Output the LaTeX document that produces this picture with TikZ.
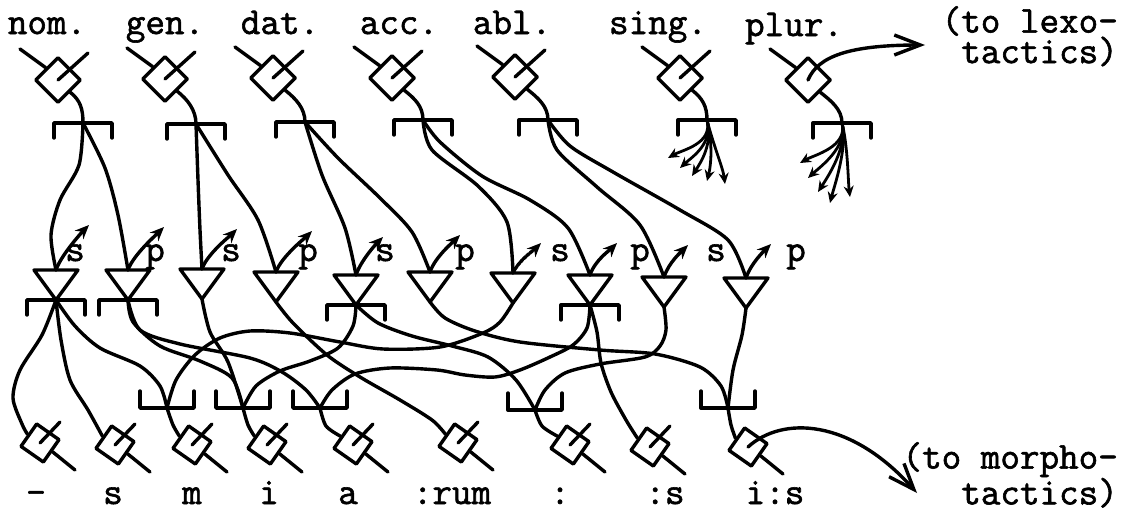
\documentclass[tikz,border=0pt]{standalone}
\usepackage{fontspec}
\newfontfamily\twfont{Latin Modern Mono}[FakeBold=1.6]
\usetikzlibrary{shapes.geometric,arrows.meta,calc}
\begin{document}
\begin{tikzpicture}[x=1pt,y=-1pt,
 ln/.style={line width=3.4pt,line cap=round,line join=round},
 tdia/.style={diamond,draw,line width=3.4pt,minimum size=46pt,inner sep=0pt,line join=round},
 bdia/.style={diamond,draw,line width=3.4pt,minimum size=40pt,inner sep=0pt,line join=round,rotate=10},
 lbl/.style={font=\twfont\fontsize{38}{25}\selectfont,inner sep=0pt,anchor=base},
 two/.style={font=\twfont\fontsize{38}{25}\selectfont,inner sep=0pt,anchor=north east,align=right},
 sp/.style={ln,-{Stealth[length=14pt,width=12pt]}},
 fan/.style={line width=2.8pt,line cap=round,-{Stealth[length=11pt,width=10pt]}},
 big/.style={ln,-{Straight Barb[length=26pt,width=20pt]}},
 topbr/.pic={\draw[ln] (-29,15) -- (-29,0) -- (29,0) -- (29,15);},
 botbr/.pic={\draw[ln] (-27,-17) -- (-27,0) -- (27,0) -- (27,-17);},
]
\useasboundingbox (0,0) rectangle (1121,514);

% ---- top labels
\node[lbl] (lnom) at (47,34) {nom.};
\node[lbl] (lgen) at (165,34) {gen.};
\node[lbl] (ldat) at (280,34) {dat.};
\node[lbl] (lacc) at (399,34) {acc.};
\node[lbl] (labl) at (512,34) {abl.};
\node[lbl] (lsing) at (658,34) {sing.};
\node[lbl] (lplur) at (794,36) {plur.};
\node[two] (lexotext) at (1118,6) {(to lexo-\\tactics)};

% ---- top diamonds
\foreach \n/\x/\y in {nom/58/80,gen/165/79,dat/273/78,acc/392/78,abl/515/77,sing/680/78,plur/808/80}{
  \node[tdia] (d\n) at (\x,\y) {};
  \coordinate (ul\n) at ($(d\n)+(-38,-31)$);
  \draw[ln] (ul\n) -- (d\n.north west);
}
\foreach \n in {nom,gen,dat,acc,abl,sing}{
  \coordinate (ur\n) at ($(d\n)+(30,-27)$);
  \draw[ln] (ur\n) -- (d\n.center);
}
\coordinate (lexo) at (925,45);
\draw[big] (dplur.center) .. controls (818,56) and (850,45) .. (lexo);

% ---- top brackets
\foreach \n/\x/\y in {nom/83/123,gen/196/124,dat/305/122,acc/423/120,abl/548/120,sing/707/120,plur/842/123}{
  \coordinate (j\n) at (\x,\y);
  \draw[ln] (d\n.south east) .. controls +(10,8) and +(0,-14) .. (j\n);
  \pic at (j\n) {topbr};
}

% ---- number fans
\foreach \k/\ex/\ey/\cx/\cy in {1/668/158/14/-8,2/680/168/12/-11,3/692/176/9/-14,4/707/181/4/-16,5/725/184/-2/-16}{
  \coordinate (fs\k) at (\ex,\ey);
  \draw[fan] (jsing) .. controls +(6,24) and +(\cx,\cy) .. (fs\k);
}
\foreach \k/\ex/\ey/\cx/\cy in {1/800/163/14/-8,2/808/178/12/-11,3/818/192/9/-14,4/830/203/4/-16,5/850/197/-2/-16}{
  \coordinate (fp\k) at (\ex,\ey);
  \draw[fan] (jplur) .. controls +(6,24) and +(\cx,\cy) .. (fp\k);
}

% ---- triangles
\foreach \i/\x/\y in {1/56/270,2/128/270,3/202/269,4/276/272,5/356/275,6/430/272,7/513/273,8/590/275,9/664/277,10/746/278}{
  \coordinate (t\i) at (\x,\y);
  \coordinate (a\i) at (\x,\y+30);
  \draw[ln] (t\i) ++(-22,0) -- ++(44,0) -- (a\i) -- cycle;
}
\foreach \i in {1,2,5,8}{ \pic at (a\i) {topbr}; }

% ---- s / p arrows and labels
\foreach \i/\dx/\dy/\lx/\lt in {1/33/-45/75/s,2/36/-43/155/p,3/35/-40/231/s,4/36/-41/308/p,5/27/-38/385/s,6/30/-37/465/p,8/27/-32/640/p,9/24/-32/716/s,10/25/-34/796/p}{
  \coordinate (u\i) at ($(t\i)+(\dx,\dy)$);
  \draw[sp] (t\i) .. controls +(5,-15) and +(-6,6) .. (u\i);
  \node[lbl] (s\i) at (\lx,261) {\lt};
}
\coordinate (u7) at ($(t7)+(28,-30)$);
\draw[sp,densely dotted] (t7) .. controls +(5,-12) and +(-6,6) .. (u7);
\node[lbl] (s7) at (560,261) {s};

% ---- case lines to triangles
\draw[ln] plot[smooth] coordinates {(jnom) (79,165) (60,200) (51,235) (t1)};
\draw[ln] plot[smooth] coordinates {(jnom) (105,168) (118,215) (t2)};
\draw[ln] plot[smooth] coordinates {(jgen) (198,180) (200,230) (t3)};
\draw[ln] plot[smooth] coordinates {(jgen) (228,175) (258,220) (t4)};
\draw[ln] plot[smooth] coordinates {(jdat) (322,175) (345,228) (t5)};
\draw[ln] plot[smooth] coordinates {(jdat) (338,158) (380,198) (412,232) (t6)};
\draw[ln] plot[smooth] coordinates {(jacc) (432,150) (478,186) (507,222) (t7)};
\draw[ln] plot[smooth] coordinates {(jacc) (440,142) (482,176) (530,200) (568,228) (t8)};
\draw[ln] plot[smooth] coordinates {(jabl) (557,150) (597,187) (640,225) (t9)};
\draw[ln] plot[smooth] coordinates {(jabl) (570,146) (613,172) (680,210) (728,240) (t10)};

% ---- bottom brackets
\foreach \n/\x/\y in {1/167/408,2/243/408,3/320/408,4/535/410,5/728/408}{
  \coordinate (bb\n) at (\x,\y);
  \pic at (bb\n) {botbr};
}

% ---- bottom diamonds
\foreach \i/\x/\y in {1/40/443,2/115/445,3/192/445,4/267/445,5/353/445,6/458/443,7/570/445,8/650/447,9/748/447}{
  \node[bdia] (e\i) at (\x,\y) {};
  \coordinate (lr\i) at ($(e\i)+(35,27)$);
  \draw[ln] (e\i.south east) -- (lr\i);
}
\foreach \i in {1,...,8}{
  \coordinate (er\i) at ($(e\i)+(20,-21)$);
  \draw[ln] (er\i) -- (e\i.center);
}
\coordinate (morph) at (917,493);
\draw[big] (e9.center) .. controls (782,416) and (850,418) .. (morph);

% ---- triangles to brackets / diamonds
\draw[ln] plot[smooth] coordinates {(a1) (42,335) (20,370) (13,398) (22,424) (e1.north west)};
\draw[ln] plot[smooth] coordinates {(a1) (61,340) (70,380) (88,410) (e2.north west)};
\draw[ln] plot[smooth] coordinates {(a1) (75,326) (100,348) (140,366) (160,386) (bb1)};
\draw[ln] plot[smooth] coordinates {(a2) (140,330) (180,344) (250,358) (282,372) (306,390) (bb3)};
\draw[ln] plot[smooth] coordinates {(a2) (133,322) (160,346) (200,361) (232,378) (bb2)};
\draw[ln] plot[smooth] coordinates {(a3) (210,332) (228,362) (bb2)};
\draw[ln] plot[smooth] coordinates {(a4) (293,323) (327,355) (360,377) (400,400) (432,420) (e6.north west)};
\draw[ln] plot[smooth] coordinates {(a5) (353,326) (338,348) (310,361) (280,371) (256,386) (bb2)};
\draw[ln] plot[smooth] coordinates {(a5) (378,323) (412,336) (452,346) (488,357) (516,380) (bb4)};
\draw[ln] plot[smooth] coordinates {(a6) (445,318) (475,331) (520,342) (600,350) (655,354) (700,367) (721,386) (bb5)};
\draw[ln] plot[smooth] coordinates {(a7) (500,322) (483,333) (440,347) (383,349) (340,342) (290,333) (250,331) (220,338) (195,355) (176,380) (bb1)};
\draw[ln] plot[smooth] coordinates {(a8) (587,328) (573,345) (550,357) (520,370) (495,377) (465,375) (437,370) (390,368) (355,374) (332,390) (bb3)};
\draw[ln] plot[smooth] coordinates {(a8) (597,332) (601,363) (611,392) (626,420) (e8.north west)};
\draw[ln] plot[smooth] coordinates {(a9) (666,330) (660,346) (645,357) (600,364) (565,373) (545,390) (bb4)};
\draw[ln] plot[smooth] coordinates {(a10) (742,335) (733,370) (bb5)};
\draw[ln] plot[smooth] coordinates {(bb1) (173,425) (e3.north west)};
\draw[ln] plot[smooth] coordinates {(bb2) (248,425) (e4.north west)};
\draw[ln] plot[smooth] coordinates {(bb3) (326,426) (e5.north west)};
\draw[ln] plot[smooth] coordinates {(bb4) (542,426) (e7.north west)};
\draw[ln] plot[smooth] coordinates {(bb5) (731,425) (e9.north west)};

% ---- bottom labels
\node[lbl] (m1) at (36,504) {-};
\node[lbl] (m2) at (113,504) {s};
\node[lbl] (m3) at (192,504) {m};
\node[lbl] (m4) at (269,504) {i};
\node[lbl] (m5) at (348,504) {a};
\node[lbl] (m6) at (452,504) {:rum};
\node[lbl] (m7) at (560,504) {:};
\node[lbl] (m8) at (665,504) {:s};
\node[lbl] (m9) at (775,504) {i:s};
\node[two] (mortext) at (1118,442) {(to morpho-\\tactics)};
\end{tikzpicture}
\end{document}
